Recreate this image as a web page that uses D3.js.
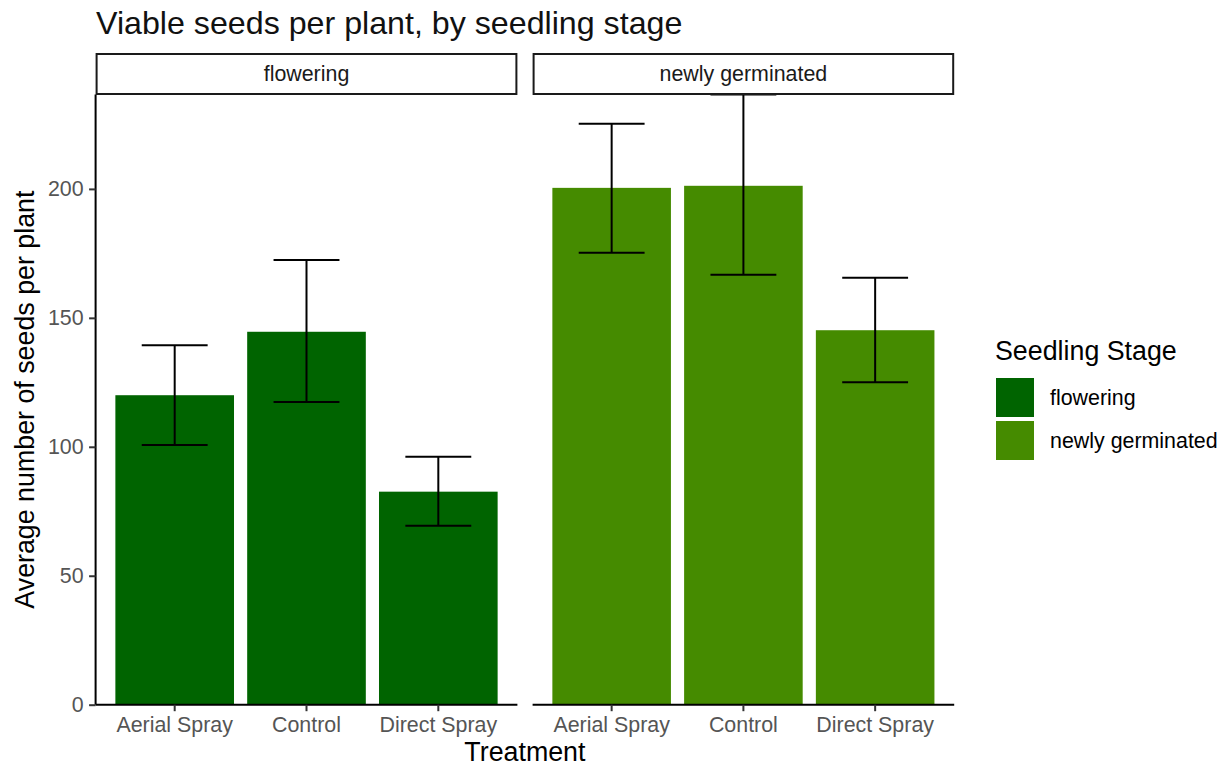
<!DOCTYPE html>
<html>
<head>
<meta charset="utf-8">
<script src="https://cdn.jsdelivr.net/npm/d3@7"></script>
<style>
  html, body { margin: 0; padding: 0; background: #fff; }
  svg { display: block; font-family: "Liberation Sans", Arial, Helvetica, sans-serif; }
</style>
</head>
<body>
<svg id="chart" width="1228" height="767"></svg>
<script>
// ---- data ----
const treatments = ["Aerial Spray", "Control", "Direct Spray"];
const stages = ["flowering", "newly germinated"];
const stageColors = ["#006400", "#458B00"];
const floweringMean  = [120.0, 144.6, 82.6];
const floweringLower = [100.7, 117.4, 69.4];
const floweringUpper = [139.4, 172.4, 96.1];
const newlyMean  = [200.4, 201.2, 145.2];
const newlyLower = [175.2, 166.7, 125.0];
const newlyUpper = [225.3, 236.6, 165.5];
const yTicks = [0, 50, 100, 150, 200];
const yMax = 236.6;

const titleText = "Viable seeds per plant, by seedling stage";
const xTitle = "Treatment";
const yTitle = "Average number of seeds per plant";
const legendTitle = "Seedling Stage";

const panels = [
  { stage: stages[0], color: stageColors[0], mean: floweringMean, lo: floweringLower, hi: floweringUpper },
  { stage: stages[1], color: stageColors[1], mean: newlyMean, lo: newlyLower, hi: newlyUpper }
];

// ---- layout ----
const svg = d3.select("#chart");
const panelTop = 94.5, panelBottom = 704.7;
const panelX = [[95.6, 517.4], [532.6, 954.2]];
const stripTop = 54, stripBottom = 94;
const tickCol = "#333333", labCol = "#555555";

const y = d3.scaleLinear().domain([0, yMax]).range([panelBottom, panelTop]);

// title
svg.append("text").attr("x", 96).attr("y", 34)
  .attr("font-size", 32.2).attr("fill", "#111").text(titleText);

panels.forEach((p, i) => {
  const [x0, x1] = panelX[i];
  const x = d3.scaleBand().domain(treatments).range([x0, x1])
    .paddingInner(0.1).paddingOuter(0.15);
  const g = svg.append("g");
  const rows = treatments.map((t, k) => ({ t, m: p.mean[k], lo: p.lo[k], hi: p.hi[k] }));

  // bars
  g.selectAll("rect.bar").data(rows).enter().append("rect")
    .attr("class", "bar")
    .attr("x", d => x(d.t)).attr("width", x.bandwidth())
    .attr("y", d => y(d.m)).attr("height", d => y(0) - y(d.m))
    .attr("fill", p.color);

  // error bars
  const hw = x.step() * 0.25;
  const eb = g.selectAll("g.eb").data(rows).enter().append("g")
    .attr("stroke", "#000").attr("stroke-width", 2);
  eb.append("line").attr("x1", d => x(d.t) + x.bandwidth() / 2).attr("x2", d => x(d.t) + x.bandwidth() / 2)
    .attr("y1", d => y(d.lo)).attr("y2", d => y(d.hi));
  eb.append("line").attr("x1", d => x(d.t) + x.bandwidth() / 2 - hw).attr("x2", d => x(d.t) + x.bandwidth() / 2 + hw)
    .attr("y1", d => y(d.lo)).attr("y2", d => y(d.lo));
  eb.append("line").attr("x1", d => x(d.t) + x.bandwidth() / 2 - hw).attr("x2", d => x(d.t) + x.bandwidth() / 2 + hw)
    .attr("y1", d => y(d.hi)).attr("y2", d => y(d.hi));

  // x axis
  const xa = svg.append("g").attr("transform", `translate(0,${panelBottom})`)
    .call(d3.axisBottom(x).tickSize(6.5).tickPadding(5));
  xa.select(".domain").attr("stroke", "#000").attr("stroke-width", 2)
    .attr("d", `M${x0},0H${x1}`);
  xa.selectAll(".tick line").attr("stroke", tickCol).attr("stroke-width", 2);
  xa.selectAll(".tick text").attr("font-size", 21.4).attr("fill", labCol)
    .attr("font-family", "'Liberation Sans', Arial, sans-serif").attr("dy", "0.75em");

  // y axis (left panel only)
  if (i === 0) {
    const ya = svg.append("g").attr("transform", `translate(${x0},0)`)
      .call(d3.axisLeft(y).tickValues(yTicks).tickSize(6.5).tickPadding(5.5));
    ya.select(".domain").attr("stroke", "#000").attr("stroke-width", 2)
      .attr("d", `M0,${panelTop}V${panelBottom}`);
    ya.selectAll(".tick line").attr("stroke", tickCol).attr("stroke-width", 2);
    ya.selectAll(".tick text").attr("font-size", 21.4).attr("fill", labCol)
      .attr("font-family", "'Liberation Sans', Arial, sans-serif");
  }

  // strip
  svg.append("rect").attr("x", x0 + 1).attr("y", stripTop).attr("width", x1 - x0 - 2).attr("height", stripBottom - stripTop)
    .attr("fill", "#fff").attr("stroke", "#1a1a1a").attr("stroke-width", 2);
  svg.append("text").attr("x", (x0 + x1) / 2).attr("y", (stripTop + stripBottom) / 2)
    .attr("dy", "0.35em").attr("text-anchor", "middle").attr("font-size", 21.4).attr("fill", "#1a1a1a")
    .text(p.stage);
});

// axis titles
svg.append("text").attr("x", (panelX[0][0] + panelX[1][1]) / 2).attr("y", 761)
  .attr("text-anchor", "middle").attr("font-size", 26.8).attr("fill", "#000").text(xTitle);
svg.append("text").attr("transform", `translate(34,${(panelTop + panelBottom) / 2}) rotate(-90)`)
  .attr("text-anchor", "middle").attr("font-size", 26.8).attr("fill", "#000").text(yTitle);

// legend
const lg = svg.append("g");
lg.append("text").attr("x", 995).attr("y", 360).attr("font-size", 26.8).attr("fill", "#000").text(legendTitle);
stages.forEach((s, k) => {
  const top = 376 + k * 43;
  lg.append("rect").attr("x", 996).attr("y", top + 2).attr("width", 38).attr("height", 39)
    .attr("fill", stageColors[k]);
  lg.append("text").attr("x", 1050).attr("y", top + 21.5).attr("dy", "0.35em")
    .attr("font-size", 21.4).attr("fill", "#000").text(s);
});
</script>
</body>
</html>
